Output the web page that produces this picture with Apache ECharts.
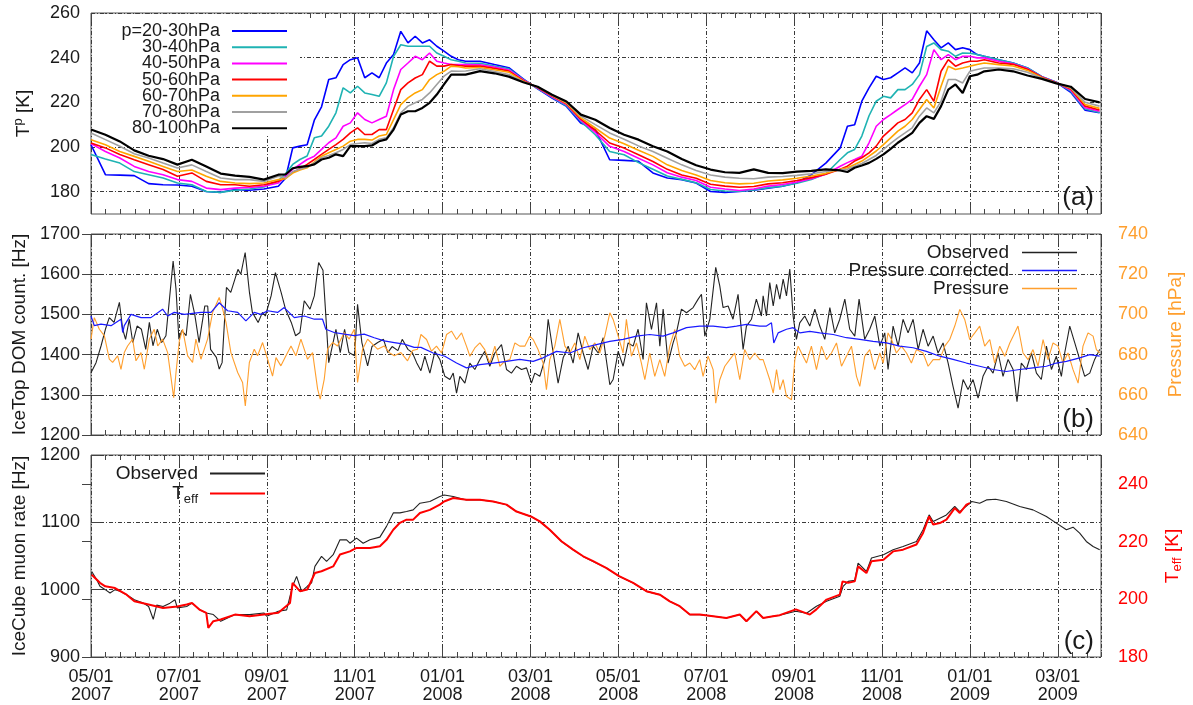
<!DOCTYPE html>
<html>
<head>
<meta charset="utf-8">
<title>IceTop / IceCube rates vs. temperature</title>
<script src="https://cdn.jsdelivr.net/npm/echarts/dist/echarts.min.js"></script>
<style>
  html, body { margin: 0; padding: 0; background: #fff; }
  #chart { width: 1193px; height: 705px; }
</style>
</head>
<body>
<div id="chart"></div>
<script>
// x values are days since 05/01/2007
var tickLabels = ['05/01\n2007', '07/01\n2007', '09/01\n2007', '11/01\n2007', '01/01\n2008', '03/01\n2008',
  '05/01\n2008', '07/01\n2008', '09/01\n2008', '11/01\n2008', '01/01\n2009', '03/01\n2009']

// panel (a): temperature of pressure layers (denser sampling during the two warmings)
var daysA = [0, 10, 20, 30, 40, 50, 60, 70, 80, 90, 100, 110, 120, 130,
  135, 140, 145, 150, 155, 160, 165, 170, 175, 180, 185, 190, 195, 200, 205, 210, 215, 220, 225, 230, 235, 240, 245, 250, 255, 260,
  270, 280, 290, 300, 310, 320, 330, 340, 350, 360, 370, 380, 390, 400, 410, 420, 430, 440, 450, 460, 470, 480, 490, 500, 510,
  520, 525, 530, 535, 540, 545, 550, 555, 560, 565, 570, 575, 580, 585, 590, 595, 600, 605, 610, 615, 620,
  630, 640, 650, 660, 670, 680, 690, 700]
var layerNames = ['p=20-30hPa', '30-40hPa', '40-50hPa', '50-60hPa', '60-70hPa', '70-80hPa', '80-100hPa']
var tP2030 = [201, 187.6, 187.4, 187.2, 183.6, 183.1, 183, 182.4, 180.1, 179.7, 181, 180.6, 181.2, 182.4,
  186, 199.6, 200.4, 201, 212, 218, 230.2, 231, 236.9, 239.1, 240, 231, 233.2, 231, 237.6, 241.4, 251.8, 246.6, 249.6, 246.6, 248, 245.1, 242.9, 240.6, 239.1, 238.4,
  238.4, 236.9, 235.5, 230.5, 226, 221.9, 218.2, 210.7, 207.8, 194.3, 194, 193.6, 188.4, 186.1, 185.4, 183.9, 180.1, 179.7, 180.1, 180.6, 181.6, 182.4, 184, 187.6, 192.8,
  199.6, 209.3, 210, 220.5, 226.5, 231.7, 230.2, 231, 233.2, 235.4, 233.2, 237.6, 252, 248, 244.4, 246.6, 243.6, 244.4, 243.6, 241.4, 240.6,
  239.1, 237.6, 235.4, 231.5, 229, 224.5, 216.5, 215.3]
var tP3040 = [196.6, 194.6, 192.8, 189, 187.6, 186.1, 183.9, 183.1, 180.1, 179.7, 180.6, 181.2, 182.1, 185,
  188, 192.2, 194.4, 196, 204.1, 204.9, 209.3, 215.3, 226.5, 224.2, 227.2, 224.2, 223.5, 222.7, 228.7, 240.6, 245.8, 245.1, 245.1, 245.1, 245.1, 242.1, 240.6, 239.1, 238.4, 237.6,
  237.5, 236.3, 235, 230.3, 226.2, 222.2, 218.5, 211.5, 205.5, 198, 196.5, 193, 190, 187, 185.5, 184, 181, 180.3, 180.2, 180.8, 181.8, 182.5, 183.8, 185.5, 188,
  194.4, 197.4, 198.9, 204.9, 214, 220.5, 222.7, 222, 225.7, 225.7, 228, 232.4, 245, 246.6, 243.6, 242.9, 240.6, 242.1, 242, 241.4, 240.6,
  239.1, 237.6, 235.4, 231.5, 229, 225, 217, 215.5]
var tP4050 = [201.5, 198, 195.1, 191.3, 189, 187.6, 185.4, 184.6, 181.6, 180.9, 181.6, 181.9, 182.4, 183.9,
  187, 190, 192.2, 194.4, 195.9, 198.9, 201.9, 204.1, 209.3, 210.8, 215.3, 212.3, 210.8, 212.3, 213.8, 225.7, 234.7, 237.6, 240.6, 239.1, 242.1, 238.4, 237.6, 236.9, 236.9, 236.9,
  236.8, 235.8, 234.5, 230, 226.4, 222.5, 219, 212, 206.5, 200.3, 198, 195, 192, 188.5, 186.5, 185, 182, 181.2, 180.5, 181.2, 182.5, 183.2, 184.3, 185.8, 187.8,
  191.4, 193, 194.4, 195.9, 201.9, 209.3, 212.3, 214.5, 216.8, 219, 221.3, 227.2, 232.4, 243.6, 239.1, 241.4, 239.1, 240.6, 240.6, 239.9, 239.9,
  238.4, 237.3, 235, 231.3, 228.9, 225.5, 217.6, 216]
var tP5060 = [201.8, 199.6, 196.6, 194.3, 192.1, 189.9, 186.9, 188.4, 184.6, 183.1, 183.1, 182.4, 183.1, 184.6,
  186.2, 188.6, 190.3, 192.2, 194.4, 196.7, 198.9, 201.1, 203.4, 206.3, 208.6, 205.6, 205.6, 207.8, 207.8, 216.8, 225.7, 228.7, 230.9, 232.4, 238.4, 236.2, 236.2, 236.9, 236.5, 236.2,
  236.2, 235.2, 234, 229.8, 226.6, 222.8, 219.3, 212.5, 207.5, 201.8, 199.5, 196.5, 193.5, 190, 187.5, 186, 183.3, 182.5, 182, 182.3, 183.5, 184, 185, 186.3, 187.8,
  190, 191.4, 193.7, 195.2, 197.4, 200.4, 204.9, 207.8, 210.8, 212.3, 215.3, 221.3, 225.7, 220.5, 233.9, 239.1, 236.2, 237.6, 238.4, 238.4, 239.1,
  237.6, 237, 234.8, 231.2, 228.8, 226, 218.3, 216.6]
var tP6070 = [203.3, 201, 198, 195.8, 193.6, 191.3, 189, 189.7, 186.9, 184.6, 183.9, 183.6, 183.9, 185.4,
  185.8, 188.3, 189.7, 190.7, 193.2, 195.9, 197.4, 198.9, 200.4, 202.6, 203.4, 203.4, 203.1, 204.9, 205.6, 212.3, 219, 222, 224.2, 225.7, 230.2, 232.4, 233.9, 236.2, 235.9, 235.4,
  235.6, 234.6, 233.5, 229.5, 226.8, 223, 219.6, 213, 208.5, 204, 201.5, 198.5, 195.8, 192, 189.5, 187.5, 185, 184, 183.5, 183.8, 184.8, 185.3, 186, 187, 188.2,
  190, 190.7, 192.2, 193.7, 195.9, 198.2, 201.1, 204.1, 207.1, 209.3, 212.3, 216.8, 221.3, 217.5, 227.2, 236.2, 234.7, 235.4, 236.2, 236.9, 237.6,
  236.9, 236.3, 234.3, 231, 228.7, 226.3, 219, 217.3]
var tP7080 = [206.3, 203.3, 200.3, 197, 195.1, 192.8, 190.6, 192, 189, 186.1, 185.4, 185.4, 184.6, 186.9,
  186.2, 189, 190, 191, 192.9, 195.2, 196.2, 197.4, 198.9, 201.1, 201.6, 201.9, 201.6, 203.4, 204.1, 208.6, 215.3, 218.3, 219.8, 221.3, 224.2, 228, 231.7, 234, 233.9, 234,
  235, 233.8, 232.5, 229.2, 226.9, 223.2, 220, 213.8, 210, 206.3, 203.5, 200.5, 198, 195, 192, 189.5, 187.5, 186.5, 186, 185.8, 186.5, 186.8, 187.3, 188, 189,
  189.8, 190, 191.4, 192.6, 194.4, 196.2, 198.9, 201.6, 204.1, 206.3, 208.6, 213.8, 217.5, 215.3, 220.5, 230.2, 230.2, 228.7, 233.9, 234.7, 235.4,
  235.4, 235, 233.5, 230.8, 228.6, 226.6, 220, 218.3]
var tP80100 = [207.8, 205.5, 202.5, 198.5, 196.1, 194.6, 192.1, 194.3, 191.3, 188.1, 187.2, 186.6, 185.4, 187.6,
  187.7, 190.5, 191.1, 191.4, 192.2, 194.4, 195.2, 196.7, 195.9, 200.4, 200.4, 200.4, 200.7, 202.6, 203.4, 207.8, 214.5, 216, 216, 217.5, 219.8, 223.5, 228, 232.4, 232.4, 232.4,
  234, 233, 231.5, 229, 227, 223.4, 220.4, 214.5, 212.2, 208.5, 205.5, 203.3, 200.3, 198, 194.6, 191.8, 189.9, 188.7, 188.4, 190, 188.4, 188.3, 189, 189.3, 190,
  189.5, 188.8, 190.7, 191.7, 192.9, 194.7, 196.7, 199.2, 201.9, 204.1, 206.3, 210.8, 213.8, 212.6, 218.3, 225.7, 228, 224.2, 231.7, 232.4, 233.9,
  234.7, 233.9, 232, 230.5, 228.5, 227, 221.5, 220]

// panel (b): [day, Hz] / [day, hPa]
var iceTopObserved = [[0, 1355], [3.5, 1380], [7, 1422], [10, 1463], [12.7, 1492], [16, 1480], [19.7, 1530], [22, 1463], [24, 1438], [26.6, 1488],
  [29, 1430], [32, 1471], [35, 1463], [38, 1413], [40.5, 1480], [43, 1422], [46, 1463], [49, 1430], [52, 1447], [57, 1633],
  [59, 1563], [61, 1438], [63, 1460], [66, 1447], [69, 1550], [72, 1500], [75, 1430], [79, 1521], [81, 1521], [83, 1413],
  [87, 1393], [89, 1364], [91, 1380], [94, 1567], [97, 1555], [102, 1612], [104, 1600], [107, 1654], [110, 1554], [112, 1505],
  [116, 1480], [119, 1505], [121, 1496], [125, 1546], [128, 1604], [132, 1554], [135, 1513], [139, 1480], [142, 1447], [145, 1455],
  [148, 1534], [152, 1513], [155, 1546], [158, 1629], [161, 1610], [163, 1496], [165, 1380], [170, 1463], [173, 1405], [176, 1463],
  [179, 1405], [183, 1397], [185, 1525], [188, 1430], [192, 1372], [195, 1420], [199, 1430], [203, 1438], [206, 1405], [209, 1420],
  [213, 1410], [216, 1438], [220, 1413], [223, 1405], [226, 1380], [229, 1360], [231.7, 1396], [235.2, 1354], [238.7, 1408], [242.1, 1388],
  [245.6, 1346], [249.1, 1338], [251.4, 1354], [253.7, 1304], [256, 1346], [259.5, 1329], [262.9, 1379], [266.4, 1363], [269.9, 1388], [273.3, 1408],
  [276.8, 1371], [280.3, 1404], [284.9, 1425], [288.4, 1363], [291.8, 1354], [295.3, 1371], [298.8, 1363], [302.3, 1367], [305.7, 1329], [308, 1354],
  [311.5, 1346], [315, 1388], [317.3, 1488], [320.8, 1404], [324.2, 1329], [327.7, 1392], [331.2, 1421], [334.6, 1379], [338.1, 1454], [341.6, 1404],
  [345, 1363], [348.5, 1421], [352, 1404], [355.5, 1442], [360.1, 1325], [362.4, 1338], [365.9, 1408], [369.3, 1371], [372.8, 1429], [376.3, 1421],
  [379.7, 1463], [383.2, 1388], [385.5, 1529], [389, 1463], [392.5, 1529], [394.8, 1421], [397.1, 1513], [400.5, 1379], [404, 1429], [406.3, 1454],
  [409.8, 1513], [413.3, 1504], [417.9, 1517], [421.4, 1538], [423.7, 1550], [426, 1446], [429.5, 1488], [433.6, 1617], [436.4, 1571], [438.7, 1517],
  [442.2, 1521], [445.6, 1488], [449.1, 1550], [452.6, 1413], [454.9, 1471], [458.4, 1488], [461.8, 1538], [465.3, 1496], [466.5, 1546], [468.8, 1496],
  [471.1, 1579], [473.5, 1521], [475.8, 1575], [478.1, 1538], [480.4, 1588], [482.7, 1546], [485, 1613], [487.3, 1496], [489.6, 1438], [491.9, 1479],
  [495.4, 1496], [498.9, 1471], [502.4, 1513], [505.8, 1471], [509.3, 1438], [512.8, 1517], [516.2, 1454], [519.7, 1488], [523.2, 1538], [526.6, 1463],
  [530.1, 1446], [533.1, 1538], [537, 1438], [540.5, 1463], [544, 1496], [547.5, 1421], [550.9, 1454], [553.2, 1363], [556.7, 1471], [560.2, 1421],
  [563.6, 1488], [567.1, 1454], [570.6, 1488], [574.1, 1413], [577.5, 1463], [581, 1421], [584.5, 1446], [587.9, 1404], [591.4, 1429], [594.9, 1379],
  [598.3, 1321], [601.8, 1267], [605.3, 1338], [608.7, 1313], [612.2, 1338], [615.7, 1292], [619.1, 1346], [622.6, 1371], [626.1, 1354], [629.6, 1404],
  [633, 1346], [636.5, 1388], [640, 1363], [642.7, 1283], [645.7, 1379], [649.2, 1363], [652.7, 1404], [656.2, 1354], [659.6, 1338], [663.1, 1421],
  [666.6, 1363], [670, 1396], [673.5, 1346], [675.8, 1404], [679.3, 1471], [682.8, 1429], [686.2, 1388], [689.7, 1346], [693.2, 1354], [696.6, 1388],
  [700.1, 1413]]
var iceTopCorrected = [[0, 1496], [2.3, 1472], [6.9, 1476], [13.9, 1472], [20.8, 1488], [22, 1455], [23.1, 1472], [27.8, 1500], [34.7, 1492], [41.6, 1492],
  [49.7, 1513], [53.2, 1496], [57.8, 1505], [64.8, 1500], [76.3, 1505], [83.3, 1505], [89, 1529], [94.8, 1509], [101.8, 1505], [107.5, 1484],
  [113.3, 1505], [117.9, 1500], [122.6, 1509], [129.5, 1505], [134.1, 1517], [141.1, 1492], [148, 1496], [155, 1488], [160.7, 1488], [163, 1463],
  [168.8, 1455], [175.8, 1451], [182.7, 1447], [189.6, 1451], [196.6, 1442], [203.5, 1434], [210.5, 1430], [217.4, 1426], [224.3, 1418], [229, 1418],
  [237.5, 1404], [245.6, 1396], [253.7, 1379], [260.6, 1367], [269.9, 1375], [279.1, 1379], [288.4, 1383], [297.6, 1388], [306.9, 1383], [313.8, 1392],
  [323.1, 1408], [332.3, 1404], [341.6, 1417], [350.8, 1425], [360.1, 1433], [369.3, 1438], [378.6, 1446], [387.8, 1450], [397.1, 1446], [404, 1454],
  [413.3, 1467], [422.5, 1471], [431.8, 1471], [441, 1467], [448, 1471], [454.9, 1475], [464.1, 1471], [468.8, 1471], [472.3, 1479], [473.9, 1429],
  [476.9, 1454], [482.7, 1463], [487.3, 1467], [492, 1454], [498.9, 1458], [505.8, 1454], [515.1, 1450], [524.3, 1442], [533.6, 1438], [542.8, 1433],
  [552.1, 1429], [561.3, 1421], [570.6, 1417], [579.8, 1408], [589.1, 1396], [598.3, 1388], [607.6, 1379], [616.8, 1371], [626.1, 1363], [635.3, 1358],
  [644.6, 1363], [653.8, 1367], [663.1, 1371], [670, 1379], [677, 1383], [686.2, 1392], [693.2, 1400], [700.1, 1396]]
var pressure = [[0, 687.7], [2.3, 698.4], [5.8, 692.6], [9.3, 689.3], [12.7, 677.7], [15, 676.1], [18.5, 679.4], [20.8, 672.7], [23.1, 681], [25.4, 684.3],
  [28.9, 687.7], [31.2, 676.9], [34.7, 681], [37, 672.7], [40.5, 687.7], [43.9, 692.6], [46.3, 684.3], [49.7, 687.7], [53.2, 681], [57.4, 658.6],
  [59, 671.1], [61.3, 686.8], [63.6, 692.6], [67.1, 679.4], [70.5, 676.1], [72.8, 687.7], [76.3, 677.7], [80.9, 687.7], [84.4, 700.9], [89, 708.4],
  [91.4, 702.6], [93.7, 696], [97.1, 681], [101.8, 671.1], [105.2, 666.1], [107.1, 654.5], [109.9, 676.1], [113.3, 682.7], [115.6, 679.4], [119.1, 686],
  [122.6, 677.7], [126, 669.3], [128.4, 678.5], [131.8, 674.4], [135.3, 679.4], [138.8, 684.3], [142.2, 679.4], [145.7, 687.7], [150.3, 677.7], [153.8, 681],
  [157.3, 662.8], [159.1, 657.8], [161.9, 667.8], [164.2, 682.7], [167.7, 686], [171.1, 684.3], [175.8, 691], [179.2, 687.7], [182.7, 692.6], [185, 666.1],
  [188.5, 682.7], [192, 687.7], [195.4, 685.2], [198.9, 682.7], [203.5, 684.3], [207, 681], [210.5, 679.4], [215.1, 681], [219.7, 676.9], [223.2, 682],
  [226.6, 682.7], [229, 690], [232.9, 687.5], [236.3, 681.7], [239.8, 684.2], [243.3, 680.8], [246.8, 690], [250.2, 691.7], [253.7, 687.5], [257.2, 690.8],
  [260.6, 684.2], [263, 679.2], [266.4, 683.3], [269.9, 685.8], [273.3, 682.5], [276.8, 675.8], [280.3, 684.2], [283.8, 674.2], [287.2, 676.7], [290.7, 677.5],
  [294.2, 685.8], [297.6, 684.2], [301.1, 684.2], [304.6, 689.2], [306.9, 687.5], [310.3, 682.5], [313.8, 675.8], [316.1, 662.5], [318.4, 677.5], [321.9, 684.2],
  [325.4, 697.5], [328.9, 684.2], [332.3, 680.8], [335.8, 685.8], [339.3, 677.5], [342.7, 689.2], [346.2, 682.5], [349.7, 685.8], [353.1, 680.8], [356.6, 689.2],
  [360.1, 700.8], [362.4, 697.5], [365.9, 689.2], [369.3, 680.8], [371.6, 697.5], [375.1, 679.2], [378.6, 685.8], [382, 675.8], [384.4, 667.5], [387.8, 680.8],
  [391.3, 669.2], [394.8, 677.5], [398.2, 669.2], [401.7, 684.2], [405.2, 692.5], [408.6, 679.2], [412.1, 674.2], [415.6, 675.8], [419, 672.5], [422.5, 677.5],
  [424.8, 669.2], [428.3, 679.2], [431.8, 672.5], [433.6, 655.8], [436.4, 667.5], [439.9, 674.2], [443.3, 677.5], [446.8, 680.8], [450.3, 667.5], [453.7, 682.5],
  [457.2, 677.5], [460.7, 680.8], [464.2, 677.5], [466.5, 677.5], [468.8, 672.5], [471.1, 667.5], [473.5, 660.8], [475.8, 672.5], [478.1, 662.5], [480.4, 667.5],
  [482.7, 659.2], [486.2, 657.5], [488.5, 677.5], [490.8, 684.2], [493.1, 680.8], [496.6, 675.8], [500, 684.2], [503.5, 672.5], [507, 684.2], [510.5, 677.5],
  [513.9, 680.8], [517.4, 685.8], [520.9, 674.2], [524.3, 679.2], [527.8, 684.2], [531.3, 669.2], [533.6, 664.2], [537, 679.2], [540.5, 682.5], [544, 672.5],
  [547.5, 680.8], [549.8, 675.8], [553.2, 690.8], [555.6, 687.5], [559, 680.8], [562.5, 684.2], [566, 680.8], [569.4, 675.8], [572.9, 682.5], [577.5, 680.8],
  [581, 674.2], [584.5, 677.5], [589.1, 677.5], [592.6, 684.2], [596, 687.5], [599.5, 694.2], [603, 702.5], [606.4, 697.5], [609.9, 687.5], [613.4, 690.8],
  [616.8, 694.2], [620.3, 684.2], [623.8, 687.5], [627.2, 675.8], [630.7, 684.2], [634.2, 679.2], [637.7, 685.8], [641.1, 690.8], [643.4, 694.2], [646.9, 680.8],
  [650.4, 677.5], [653.8, 682.5], [657.3, 674.2], [660.8, 687.5], [664.2, 677.5], [667.7, 685.8], [671.2, 684.2], [674.6, 675.8], [678.1, 680.8], [681.6, 672.5],
  [685.1, 665.8], [688.5, 684.2], [692, 690.8], [695.5, 689.2], [697.8, 682.5], [700.1, 680.8]]

// panel (c): [day, Hz] / [day, K]
var muonObserved = [[0.5, 1027], [3.9, 1015], [6.2, 1005], [9.9, 1000], [13.2, 995], [16.7, 1000], [20.1, 997.5], [24.7, 992.6], [30.1, 985], [36.3, 980],
  [40, 975], [43.2, 956], [45.6, 977], [50, 975], [54.8, 980], [58.3, 985], [59.9, 973], [66.4, 975], [70.1, 980], [75.6, 970],
  [80, 965.4], [84.9, 963], [90, 953], [99.9, 963], [110.1, 963], [120, 965.4], [121.9, 960.5], [130, 968], [135.8, 970], [138.1, 990],
  [139.9, 1005], [142.7, 1019.8], [145, 1005], [146.2, 997.5], [150.1, 1005], [153.1, 1010], [155.4, 1034.6], [160, 1049.4], [163.5, 1042], [168.1, 1051.9],
  [172.8, 1074], [177.4, 1074], [179.7, 1069], [184.3, 1076.5], [188.9, 1069], [193.6, 1074], [200.5, 1078], [205.1, 1094], [209.8, 1114], [214.4, 1114],
  [219, 1116], [223.6, 1118.5], [228.3, 1128.4], [235.2, 1131], [242.1, 1138.3], [245.1, 1140.7], [251.4, 1138.3], [260.6, 1133.3], [269.9, 1133.3], [279.1, 1131],
  [288.4, 1126], [295.3, 1116], [305.3, 1108.6], [311.5, 1101.2], [318.4, 1088.9], [326.5, 1071.6], [334.6, 1059.3], [341.6, 1049.4], [348.5, 1042], [357.8, 1032.1],
  [366.5, 1019.8], [376.3, 1009.9], [385.5, 997.5], [394.8, 992.6], [401.7, 982.7], [408.6, 975.3], [415.6, 963], [422.5, 963], [431.8, 960.5], [441, 958],
  [450.3, 963], [454.9, 953], [461.8, 967.9], [466.5, 958], [473.4, 960.5], [478, 962], [489.2, 967.9], [496.6, 965], [503.5, 975.3], [510.5, 982.7],
  [519.7, 990.1], [522, 1005], [525.5, 1012.3], [530.1, 1014], [532.4, 1039.5], [538.2, 1027.2], [541.7, 1047], [550, 1051.9], [556.7, 1059.3], [563.6, 1064.2],
  [572.9, 1071.6], [577.5, 1088.9], [581.7, 1111.1], [584.5, 1101.2], [589.1, 1106.2], [593.7, 1111], [599.5, 1123.5], [603, 1116], [611.3, 1130.9], [616.8, 1128.4],
  [621.5, 1133.3], [627.9, 1134.3], [635.3, 1130.9], [644.6, 1123.5], [653.8, 1118.5], [663.1, 1108.6], [670, 1098.8], [677, 1088.9], [681.6, 1092.8], [686.2, 1084],
  [690.8, 1071.6], [695.5, 1064.2], [700.1, 1059.3]]
var teff = [[0.5, 208.5], [6.2, 205.7], [9.9, 204.5], [16.7, 203.9], [24.7, 201.6], [30.1, 199.3], [40, 198.2], [50, 197], [59.9, 197.5], [66.4, 198.2],
  [70.1, 198.7], [75.6, 196.3], [80, 195.3], [81.4, 190.1], [84.9, 192.4], [90, 193], [99.9, 194.7], [110.1, 194.1], [120, 194.7], [130, 195.3],
  [138.1, 198.7], [139.9, 205.7], [145, 202.8], [150.1, 203.4], [155.4, 209.1], [160, 209.7], [168.1, 211.4], [172.8, 215.5], [179.7, 216.6], [184.3, 217.8],
  [193.6, 217.8], [200.5, 218.4], [205.1, 220.6], [209.8, 224.1], [214.4, 226.5], [219, 227.6], [223.6, 227.6], [228.3, 229.9], [235.2, 231], [242.1, 232.8],
  [245.1, 233.9], [251.4, 235.1], [260.6, 234.5], [269.9, 234.5], [279.1, 233.9], [288.4, 232.8], [295.3, 230.4], [305.3, 228.7], [311.5, 227], [318.4, 224.1],
  [326.5, 220.1], [334.6, 217.2], [341.6, 214.9], [348.5, 213.2], [357.8, 210.8], [366.5, 208], [376.3, 205.7], [385.5, 202.8], [394.8, 201.6], [401.7, 199.3],
  [408.6, 197.6], [415.6, 194.7], [422.5, 194.7], [431.8, 194.1], [441, 193.5], [450.3, 194.7], [454.9, 192.4], [461.8, 195.9], [466.5, 193.5], [473.4, 194.1],
  [478, 194.5], [489.2, 196.5], [498.9, 194.7], [503.5, 196.5], [510.5, 199.9], [519.7, 201.6], [521.6, 206.2], [525.5, 205.7], [530.1, 206.2], [532.4, 211.4],
  [538.2, 209.1], [541.7, 213.2], [550, 213.7], [556.7, 216.6], [563.6, 217.2], [572.9, 219], [577.5, 223], [581.7, 228.7], [584.5, 225.9], [589.1, 226.4],
  [593.7, 227.6], [599.5, 231.6], [603, 229.9], [607.6, 232.8], [609.9, 233.3]]

var FONT = '"Liberation Sans", Arial, Helvetica, sans-serif'
var TXT = '#1a1a1a'
var GRIDLINE = { color: '#3a3a3a', width: 1, type: [4, 2, 1, 2] }
var ORANGE = '#ff9f2e'
var layerColors = ['#0000ff', '#1fb3b3', '#ff00ff', '#ff0000', '#ffa500', '#a0a0a0', '#000000']

function zip (xs, ys) {
  return xs.map(function (x, i) { return [x, ys[i]] })
}

function dateLabel (v) {
  var i = Math.round(v / 61)
  return (Math.abs(v - i * 61) < 0.01 && i < tickLabels.length) ? tickLabels[i] : ''
}

function plain (v) { return String(v) }

// 4 x axes per panel: bottom major/minor, top major/minor (ticks only on top)
function xAxesFor (g) {
  var tickStyle = { color: '#444', width: 1 }
  var base = function (extra) {
    return Object.assign({
      type: 'value', gridIndex: g, min: 0, max: 701,
      axisLine: { show: false }, axisLabel: { show: false }, splitLine: { show: false }
    }, extra)
  }
  return [
    base({
      position: 'bottom', interval: 61,
      axisTick: { inside: true, length: 9, lineStyle: tickStyle },
      splitLine: { show: true, lineStyle: GRIDLINE },
      axisLabel: g === 2 ? {
        show: true, formatter: dateLabel, fontSize: 18, lineHeight: 18, color: TXT,
        fontFamily: FONT, margin: 11, showMaxLabel: false
      } : { show: false }
    }),
    base({ position: 'bottom', interval: 61 / 6, axisTick: { inside: true, length: 5, lineStyle: tickStyle } }),
    base({ position: 'top', interval: 61, axisTick: { inside: true, length: 9, lineStyle: tickStyle } }),
    base({ position: 'top', interval: 61 / 6, axisTick: { inside: true, length: 5, lineStyle: tickStyle } })
  ]
}

var nameStyle = function (color, rich) {
  return { fontSize: 19, fontFamily: FONT, color: color, rich: rich }
}
var labelStyle = function (color, margin) {
  return { fontSize: 18, fontFamily: FONT, color: color, margin: margin, formatter: plain }
}
var yTick = { inside: true, length: 9, lineStyle: { color: '#444' } }

var option = {
  animation: false,
  backgroundColor: '#fff',
  textStyle: { fontFamily: FONT },
  grid: [
    { left: 91, right: 92, top: 13, height: 201, show: true, borderColor: '#555', borderWidth: 1 },
    { left: 91, right: 92, top: 234, height: 201, show: true, borderColor: '#555', borderWidth: 1 },
    { left: 91, right: 92, top: 455, height: 202, show: true, borderColor: '#555', borderWidth: 1 }
  ],
  xAxis: xAxesFor(0).concat(xAxesFor(1), xAxesFor(2)),
  yAxis: [
    {
      type: 'value', gridIndex: 0, position: 'left', min: 170, max: 260, interval: 10,
      axisLine: { show: false }, axisTick: { show: false },
      axisLabel: Object.assign(labelStyle(TXT, 11), {
        formatter: function (v) { return Math.round(v) % 20 === 0 ? String(v) : '' }
      }),
      // every other split line is transparent so only 180, 200, 220, 240 show
      splitLine: { show: true, lineStyle: Object.assign({}, GRIDLINE, { color: ['rgba(0,0,0,0)', '#3a3a3a'] }) },
      name: '{t|T}{s|p}{t| [K]}', nameLocation: 'middle', nameGap: 56,
      nameTextStyle: nameStyle(TXT, {
        t: { fontSize: 19, fontFamily: FONT, color: TXT },
        s: { fontSize: 13, fontFamily: FONT, color: TXT, padding: [0, 0, 10, 0] }
      })
    },
    {
      type: 'value', gridIndex: 1, position: 'left', min: 1200, max: 1700, interval: 100,
      axisLine: { show: false }, axisTick: yTick,
      axisLabel: labelStyle(TXT, 11),
      splitLine: { show: true, lineStyle: GRIDLINE },
      name: 'IceTop DOM count. [Hz]', nameLocation: 'middle', nameGap: 59,
      nameTextStyle: nameStyle(TXT)
    },
    {
      type: 'value', gridIndex: 1, position: 'right', min: 640, max: 740, interval: 20,
      axisLine: { show: false }, axisTick: yTick,
      axisLabel: labelStyle(ORANGE, 17),
      splitLine: { show: false },
      name: 'Pressure [hPa]', nameLocation: 'middle', nameGap: 65,
      nameTextStyle: nameStyle(ORANGE)
    },
    {
      type: 'value', gridIndex: 2, position: 'left', min: 900, max: 1200, interval: 100,
      axisLine: { show: false }, axisTick: yTick,
      axisLabel: labelStyle(TXT, 11),
      splitLine: { show: true, lineStyle: GRIDLINE },
      name: 'IceCube muon rate [Hz]', nameLocation: 'middle', nameGap: 59,
      nameTextStyle: nameStyle(TXT)
    },
    {
      type: 'value', gridIndex: 2, position: 'right', min: 180, max: 250, interval: 20,
      axisLine: { show: false }, axisTick: yTick,
      axisLabel: Object.assign(labelStyle('#ff0000', 17), { showMaxLabel: false }),
      splitLine: { show: false },
      name: '{t|T}{s|eff}{t| [K]}', nameLocation: 'middle', nameGap: 60,
      nameTextStyle: nameStyle('#ff0000', {
        t: { fontSize: 19, fontFamily: FONT, color: '#ff0000' },
        s: { fontSize: 13, fontFamily: FONT, color: '#ff0000', padding: [10, 0, 0, 0] }
      })
    }
  ],
  legend: [
    {
      data: layerNames, orient: 'vertical', align: 'right', right: 906, top: 22,
      padding: 0, itemGap: -1.8, itemWidth: 55, itemHeight: 2, icon: 'rect', selectedMode: false,
      textStyle: { fontSize: 18, fontFamily: FONT, color: TXT, padding: [0, 7, 0, 0] }
    },
    {
      data: ['Observed', 'Pressure corrected', 'Pressure'], orient: 'vertical', align: 'right', right: 116, top: 243,
      padding: 0, itemGap: -1, itemWidth: 55, itemHeight: 1.4, icon: 'rect', selectedMode: false,
      textStyle: { fontSize: 19, fontFamily: FONT, color: TXT, padding: [0, 8, 0, 0] }
    },
    {
      data: ['Observed', 'Teff'], orient: 'vertical', align: 'right', right: 928, top: 464,
      padding: 0, itemGap: 1, itemWidth: 55, itemHeight: 2, icon: 'rect', selectedMode: false,
      formatter: function (n) { return n === 'Teff' ? '{t|T}{s|eff}' : n },
      textStyle: {
        fontSize: 19, fontFamily: FONT, color: TXT, padding: [0, 7, 0, 0],
        rich: {
          t: { fontSize: 19, fontFamily: FONT, color: TXT },
          s: { fontSize: 13, fontFamily: FONT, color: TXT, padding: [12, 0, 0, 0] }
        }
      }
    }
  ],
  graphic: [
    // key box of panel (a) hides the grid lines behind it
    { type: 'rect', shape: { x: 92, y: 14, width: 208, height: 120 }, style: { fill: '#fff' }, z: 1, silent: true },
    { type: 'text', x: 1094, y: 211, z: 10, style: { text: '(a)', fontSize: 26, fontFamily: FONT, fill: TXT, align: 'right', verticalAlign: 'bottom' } },
    { type: 'text', x: 1094, y: 433, z: 10, style: { text: '(b)', fontSize: 26, fontFamily: FONT, fill: TXT, align: 'right', verticalAlign: 'bottom' } },
    { type: 'text', x: 1094, y: 655, z: 10, style: { text: '(c)', fontSize: 26, fontFamily: FONT, fill: TXT, align: 'right', verticalAlign: 'bottom' } }
  ],
  series: []
}

function lineSeries (name, xIdx, yIdx, color, width, data) {
  return {
    name: name, type: 'line', xAxisIndex: xIdx, yAxisIndex: yIdx,
    showSymbol: false, symbol: 'none', silent: true,
    itemStyle: { color: color }, lineStyle: { color: color, width: width },
    data: data
  }
}

var layerData = [tP2030, tP3040, tP4050, tP5060, tP6070, tP7080, tP80100]
layerNames.forEach(function (name, i) {
  option.series.push(lineSeries(name, 0, 0, layerColors[i], i === 6 ? 2.2 : 1.6, zip(daysA, layerData[i])))
})

option.series.push(
  lineSeries('Observed', 4, 1, '#222', 1.1, iceTopObserved),
  lineSeries('Pressure', 4, 2, ORANGE, 1.1, pressure),
  lineSeries('Pressure corrected', 4, 1, '#1a1aff', 1.2, iceTopCorrected),
  lineSeries('Observed', 8, 3, '#222', 1.1, muonObserved),
  lineSeries('Teff', 8, 4, '#ff0000', 2, teff)
)

var chart = echarts.init(document.getElementById('chart'))
chart.setOption(option)
</script>
</body>
</html>
